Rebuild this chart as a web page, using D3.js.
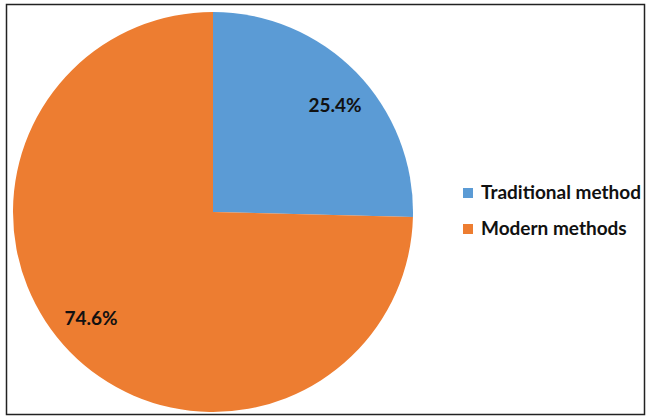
<!DOCTYPE html>
<html>
<head>
<meta charset="utf-8">
<script src="https://cdn.jsdelivr.net/npm/d3@7"></script>
<style>
  body { margin: 0; background: #fff; }
  svg { display: block; }
</style>
</head>
<body>
<div id="chart"></div>
<script>
const categories = ["Traditional method", "Modern methods"];
const shares = [25.4, 74.6];
const colors = ["#5B9BD5", "#ED7D31"];

const W = 646, H = 416;
const cx = 213, cy = 212, radius = 200;

const svg = d3.select("#chart")
    .append("svg")
    .attr("width", W)
    .attr("height", H);

// outer frame
svg.append("rect")
    .attr("x", 6.5)
    .attr("y", 4.5)
    .attr("width", 638)
    .attr("height", 410)
    .attr("fill", "none")
    .attr("stroke", "#222")
    .attr("stroke-width", 1.5);

const data = categories.map((c, i) => ({ name: c, value: shares[i] }));

const color = d3.scaleOrdinal()
    .domain(categories)
    .range(colors);

const pie = d3.pie()
    .value(d => d.value)
    .sort(null);

const arc = d3.arc()
    .innerRadius(0)
    .outerRadius(radius);

const g = svg.append("g")
    .attr("transform", `translate(${cx},${cy})`);

const arcs = pie(data);

g.selectAll("path")
    .data(arcs)
    .join("path")
    .attr("d", arc)
    .attr("fill", d => color(d.data.name));

// percentage labels, placed a bit past the slice middle like the original
const labelPos = d => {
    const a = (d.startAngle + d.endAngle) / 2 + 0.055;
    const r = radius * 0.81;
    return [Math.sin(a) * r, -Math.cos(a) * r];
};

g.selectAll("text")
    .data(arcs)
    .join("text")
    .attr("transform", d => `translate(${labelPos(d)})`)
    .attr("text-anchor", "middle")
    .attr("dy", "0.35em")
    .style("font-family", "Lato, 'Open Sans', sans-serif")
    .style("font-weight", "bold")
    .style("font-size", "19px")
    .attr("fill", "#111")
    .text(d => d.data.value.toFixed(1) + "%");

// Legend
const legend = svg.append("g")
    .attr("transform", "translate(463, 188)");

data.forEach((d, i) => {
    const row = legend.append("g")
        .attr("transform", `translate(0, ${i * 36})`);
    row.append("rect")
        .attr("width", 10)
        .attr("height", 10)
        .attr("fill", color(d.name));
    row.append("text")
        .attr("x", 18)
        .attr("y", 10.5)
        .style("font-family", "Lato, 'Open Sans', sans-serif")
        .style("font-weight", "bold")
        .style("font-size", "19px")
        .attr("fill", "#111")
        .text(d.name);
});
</script>
</body>
</html>
